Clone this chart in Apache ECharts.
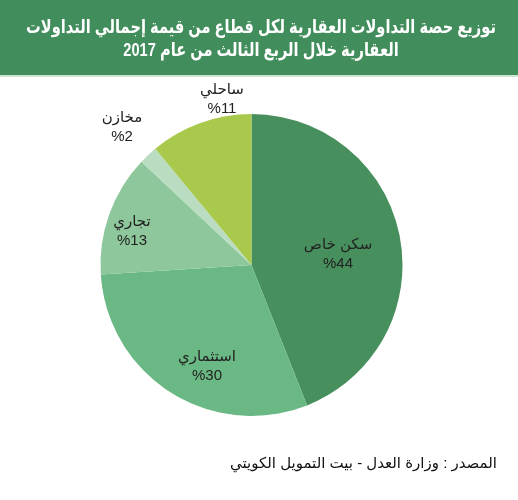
<!DOCTYPE html>
<html><head><meta charset="utf-8">
<script src="https://cdn.jsdelivr.net/npm/echarts@6/dist/echarts.min.js"></script>
<style>html,body{margin:0;padding:0;background:#fff}#c{width:518px;height:500px}</style>
</head><body><div id="c"></div>
<script>
const categories = ['سكن خاص', 'استثماري', 'تجاري', 'مخازن', 'ساحلي'];
const values = [44, 30, 13, 2, 11];
const titleText = 'توزيع حصة التداولات العقارية لكل قطاع من قيمة إجمالي التداولات\nالعقارية خلال الربع الثالث من عام 2017';
const sourceText = 'المصدر : وزارة العدل - بيت التمويل الكويتي';

const colors = ['#478f5c', '#6ab884', '#8ec79c', '#badcc0', '#a8c94b'];
const labelPos = [[338, 254], [207, 366], [132, 231], [122, 127], [222, 99]];
const FONT = 'Arial, "Liberation Sans", "DejaVu Sans", sans-serif';

const chart = echarts.init(document.getElementById('c'), null, {renderer: 'canvas'});
chart.setOption({
  animation: false,
  color: colors,
  graphic: [
    {type: 'rect', left: 0, top: 0, shape: {width: 518, height: 75}, style: {fill: '#418d5b'}, z: 0},
    {type: 'rect', left: 0, top: 75, shape: {width: 518, height: 2}, style: {fill: '#cfe3d4'}, z: 0},
    {type: 'text', x: 261, y: 16, scaleX: 0.77, z: 5, style: {text: titleText, align: 'center', verticalAlign: 'top', font: 'bold 19px ' + FONT, lineHeight: 23, fill: '#fff'}},
    {type: 'text', right: 21, top: 456, style: {text: sourceText, font: '15px ' + FONT, fill: '#111'}}
  ],
  series: [{
    type: 'pie',
    center: [251.5, 265],
    radius: 151,
    startAngle: 90,
    clockwise: true,
    itemStyle: {borderWidth: 0},
    emphasis: {disabled: true},
    labelLine: {show: false},
    label: {
      show: true,
      position: 'inside',
      formatter: p => p.name + '\n%' + p.value,
      color: '#222', fontSize: 15, fontFamily: FONT, lineHeight: 19, align: 'center', verticalAlign: 'middle'
    },
    labelLayout: p => ({x: labelPos[p.dataIndex][0], y: labelPos[p.dataIndex][1], align: 'center', verticalAlign: 'middle'}),
    data: categories.map((n, i) => ({name: n, value: values[i]}))
  }]
});
</script></body></html>
